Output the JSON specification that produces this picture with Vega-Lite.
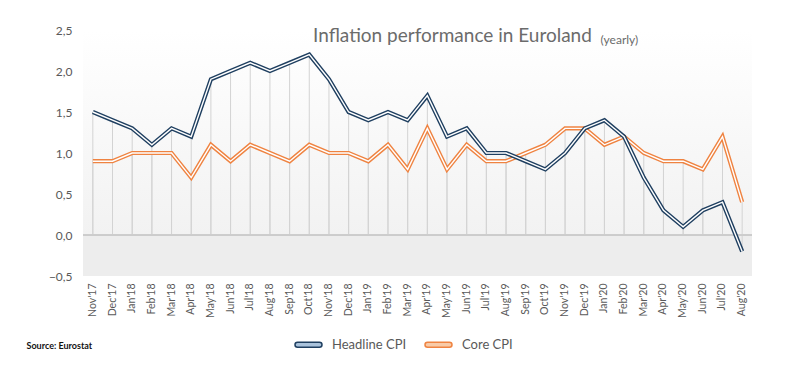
{
  "$schema": "https://vega.github.io/schema/vega-lite/v6.json",
  "width": 669,
  "height": 246,
  "autosize": {"type": "none"},
  "padding": {"left": 83, "top": 30, "right": 42, "bottom": 101},
  "background": "white",
  "config": {
    "font": "Lato",
    "view": {
      "stroke": null,
      "fill": {"gradient": "linear", "x1": 0, "y1": 0, "x2": 0, "y2": 1,
        "stops": [{"offset": 0, "color": "#ffffff"}, {"offset": 0.833, "color": "#f2f2f2"}, {"offset": 0.834, "color": "#ededed"}, {"offset": 1, "color": "#ededed"}]}
    }
  },
  "title": {"text": "Inflation performance in Euroland", "anchor": "start", "frame": "group", "dx": 230, "dy": 26, "fontSize": 19, "fontWeight": "normal", "color": "#6b6b6b", "font": "Lato"},
  "datasets": {
    "cpi": [
      {"month": "Nov'17", "series": "Headline CPI", "value": 1.5},
      {"month": "Dec'17", "series": "Headline CPI", "value": 1.4},
      {"month": "Jan'18", "series": "Headline CPI", "value": 1.3},
      {"month": "Feb'18", "series": "Headline CPI", "value": 1.1},
      {"month": "Mar'18", "series": "Headline CPI", "value": 1.3},
      {"month": "Apr'18", "series": "Headline CPI", "value": 1.2},
      {"month": "May'18", "series": "Headline CPI", "value": 1.9},
      {"month": "Jun'18", "series": "Headline CPI", "value": 2.0},
      {"month": "Jul'18", "series": "Headline CPI", "value": 2.1},
      {"month": "Aug'18", "series": "Headline CPI", "value": 2.0},
      {"month": "Sep'18", "series": "Headline CPI", "value": 2.1},
      {"month": "Oct'18", "series": "Headline CPI", "value": 2.2},
      {"month": "Nov'18", "series": "Headline CPI", "value": 1.9},
      {"month": "Dec'18", "series": "Headline CPI", "value": 1.5},
      {"month": "Jan'19", "series": "Headline CPI", "value": 1.4},
      {"month": "Feb'19", "series": "Headline CPI", "value": 1.5},
      {"month": "Mar'19", "series": "Headline CPI", "value": 1.4},
      {"month": "Apr'19", "series": "Headline CPI", "value": 1.7},
      {"month": "May'19", "series": "Headline CPI", "value": 1.2},
      {"month": "Jun'19", "series": "Headline CPI", "value": 1.3},
      {"month": "Jul'19", "series": "Headline CPI", "value": 1.0},
      {"month": "Aug'19", "series": "Headline CPI", "value": 1.0},
      {"month": "Sep'19", "series": "Headline CPI", "value": 0.9},
      {"month": "Oct'19", "series": "Headline CPI", "value": 0.8},
      {"month": "Nov'19", "series": "Headline CPI", "value": 1.0},
      {"month": "Dec'19", "series": "Headline CPI", "value": 1.3},
      {"month": "Jan'20", "series": "Headline CPI", "value": 1.4},
      {"month": "Feb'20", "series": "Headline CPI", "value": 1.2},
      {"month": "Mar'20", "series": "Headline CPI", "value": 0.7},
      {"month": "Apr'20", "series": "Headline CPI", "value": 0.3},
      {"month": "May'20", "series": "Headline CPI", "value": 0.1},
      {"month": "Jun'20", "series": "Headline CPI", "value": 0.3},
      {"month": "Jul'20", "series": "Headline CPI", "value": 0.4},
      {"month": "Aug'20", "series": "Headline CPI", "value": -0.2},
      {"month": "Nov'17", "series": "Core CPI", "value": 0.9},
      {"month": "Dec'17", "series": "Core CPI", "value": 0.9},
      {"month": "Jan'18", "series": "Core CPI", "value": 1.0},
      {"month": "Feb'18", "series": "Core CPI", "value": 1.0},
      {"month": "Mar'18", "series": "Core CPI", "value": 1.0},
      {"month": "Apr'18", "series": "Core CPI", "value": 0.7},
      {"month": "May'18", "series": "Core CPI", "value": 1.1},
      {"month": "Jun'18", "series": "Core CPI", "value": 0.9},
      {"month": "Jul'18", "series": "Core CPI", "value": 1.1},
      {"month": "Aug'18", "series": "Core CPI", "value": 1.0},
      {"month": "Sep'18", "series": "Core CPI", "value": 0.9},
      {"month": "Oct'18", "series": "Core CPI", "value": 1.1},
      {"month": "Nov'18", "series": "Core CPI", "value": 1.0},
      {"month": "Dec'18", "series": "Core CPI", "value": 1.0},
      {"month": "Jan'19", "series": "Core CPI", "value": 0.9},
      {"month": "Feb'19", "series": "Core CPI", "value": 1.1},
      {"month": "Mar'19", "series": "Core CPI", "value": 0.8},
      {"month": "Apr'19", "series": "Core CPI", "value": 1.3},
      {"month": "May'19", "series": "Core CPI", "value": 0.8},
      {"month": "Jun'19", "series": "Core CPI", "value": 1.1},
      {"month": "Jul'19", "series": "Core CPI", "value": 0.9},
      {"month": "Aug'19", "series": "Core CPI", "value": 0.9},
      {"month": "Sep'19", "series": "Core CPI", "value": 1.0},
      {"month": "Oct'19", "series": "Core CPI", "value": 1.1},
      {"month": "Nov'19", "series": "Core CPI", "value": 1.3},
      {"month": "Dec'19", "series": "Core CPI", "value": 1.3},
      {"month": "Jan'20", "series": "Core CPI", "value": 1.1},
      {"month": "Feb'20", "series": "Core CPI", "value": 1.2},
      {"month": "Mar'20", "series": "Core CPI", "value": 1.0},
      {"month": "Apr'20", "series": "Core CPI", "value": 0.9},
      {"month": "May'20", "series": "Core CPI", "value": 0.9},
      {"month": "Jun'20", "series": "Core CPI", "value": 0.8},
      {"month": "Jul'20", "series": "Core CPI", "value": 1.2},
      {"month": "Aug'20", "series": "Core CPI", "value": 0.4}
    ]
  },
  "data": {"name": "cpi"},
  "layer": [
    {
      "mark": {"type": "rule", "color": "#d3d3d3", "strokeWidth": 1},
      "encoding": {
        "x": {"field": "month", "type": "ordinal", "sort": null,
          "axis": {"labelAngle": -90, "labelAlign": "right", "labelBaseline": "middle", "labelPadding": 7, "labelFontSize": 10.5, "labelColor": "#595959", "ticks": false, "domain": false, "grid": false,
            "title": "Source: Eurostat", "titleX": -57, "titleY": 72, "titleAlign": "left", "titleAnchor": "start", "titleBaseline": "alphabetic", "titleFontSize": 9, "titleFontWeight": "bold", "titleColor": "#111111"}},
        "y": {"field": "value", "type": "quantitative", "scale": {"domain": [-0.5, 2.5], "nice": false, "zero": false},
          "axis": {"values": [-0.5, 0, 0.5, 1, 1.5, 2, 2.5], "labelExpr": "replace(format(datum.value,'.1f'),'.',',')", "grid": false, "domain": false, "ticks": false, "labelPadding": 11, "labelFontSize": 12, "labelColor": "#595959",
            "title": "(yearly)", "titleAngle": 0, "titleX": 517, "titleY": 13, "titleAlign": "left", "titleBaseline": "alphabetic", "titleFontSize": 12, "titleFontWeight": "normal", "titleColor": "#6b6b6b"}},
        "y2": {"datum": 0}
      }
    },
    {
      "mark": {"type": "rule", "color": "#cccccc", "strokeWidth": 1},
      "encoding": {"y": {"datum": 0}}
    },
    {
      "transform": [{"filter": "datum.series === 'Core CPI'"}],
      "mark": {"type": "line", "strokeWidth": 4.2},
      "encoding": {
        "x": {"field": "month", "type": "ordinal", "sort": null},
        "y": {"field": "value", "type": "quantitative"},
        "color": {"field": "series", "type": "nominal",
          "scale": {"domain": ["Headline CPI", "Core CPI"], "range": ["#1f3f60", "#ef8341"]},
          "legend": {"title": null, "orient": "none", "legendX": 211, "legendY": 300, "direction": "horizontal", "padding": 0,
            "symbolType": "M-0.81,-0.19H0.81A0.19,0.19,0,0,1,0.81,0.19H-0.81A0.19,0.19,0,0,1,-0.81,-0.19Z", "symbolSize": 729, "symbolStrokeWidth": 1.5, "labelFontSize": 13, "labelColor": "#595959", "labelOffset": 9, "columnPadding": 15,
            "encode": {"symbols": {"update": {"fill": {"signal": "datum.value === 'Headline CPI' ? '#aac3dc' : '#f8cba8'"}, "fillOpacity": {"value": 1}}}}}}
      }
    },
    {
      "transform": [{"filter": "datum.series === 'Core CPI'"}],
      "mark": {"type": "line", "strokeWidth": 1.4, "color": "white"},
      "encoding": {
        "x": {"field": "month", "type": "ordinal", "sort": null},
        "y": {"field": "value", "type": "quantitative"}
      }
    },
    {
      "transform": [{"filter": "datum.series === 'Headline CPI'"}],
      "mark": {"type": "line", "strokeWidth": 4.2},
      "encoding": {
        "x": {"field": "month", "type": "ordinal", "sort": null},
        "y": {"field": "value", "type": "quantitative"},
        "color": {"field": "series", "type": "nominal"}
      }
    },
    {
      "transform": [{"filter": "datum.series === 'Headline CPI'"}],
      "mark": {"type": "line", "strokeWidth": 1.4, "color": "white"},
      "encoding": {
        "x": {"field": "month", "type": "ordinal", "sort": null},
        "y": {"field": "value", "type": "quantitative"}
      }
    }
  ]
}
